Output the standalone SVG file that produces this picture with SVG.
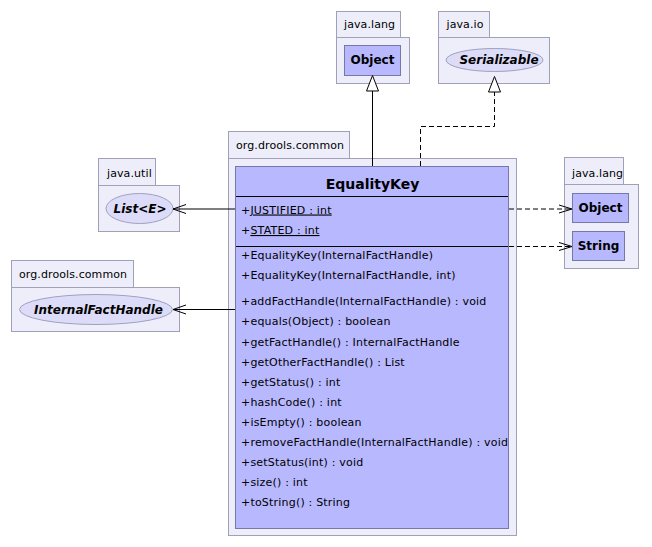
<svg xmlns="http://www.w3.org/2000/svg" width="652" height="547" viewBox="0 0 652 547">
<style>
.pkg{fill:#eeeefa;stroke:#a0a0b8;stroke-width:1}
.cls{fill:#b8b8ff;stroke:#7878a8;stroke-width:1}
.ell{fill:#dcdcf8;stroke:#a0a0c0;stroke-width:1}
.plab{font-family:"DejaVu Sans",sans-serif;font-size:11px;letter-spacing:0.1px;fill:#000}
.cname{font-family:"DejaVu Sans",sans-serif;font-size:12px;font-weight:bold;fill:#000}
.iname{font-family:"DejaVu Sans",sans-serif;font-size:12px;font-weight:bold;font-style:italic;fill:#000}
.title{font-family:"DejaVu Sans",sans-serif;font-size:14px;font-weight:bold;fill:#000}
.mem{font-family:"DejaVu Sans",sans-serif;font-size:11px;letter-spacing:0.2px;fill:#000}
.sep{stroke:#000;stroke-width:1}
.ln{fill:none;stroke:#000;stroke-width:1}
.dash{fill:none;stroke:#000;stroke-width:1;stroke-dasharray:5,3}
.tri{fill:#fff;stroke:#000;stroke-width:1}
</style>
<rect width="652" height="547" fill="#fff"/>

<g id="pkg-java-lang-top">
<rect class="pkg" x="336.5" y="11.5" width="64" height="26"/>
<rect class="pkg" x="336.5" y="37.5" width="73" height="46"/>
<text class="plab" x="344" y="28">java.lang</text>
<g id="node-object-top">
<rect class="cls" x="344.5" y="45.5" width="56" height="30"/>
<text class="cname" x="372.5" y="64" text-anchor="middle">Object</text>
</g>
</g>

<g id="pkg-java-io">
<rect class="pkg" x="438.5" y="11.5" width="51" height="26"/>
<rect class="pkg" x="438.5" y="37.5" width="111" height="46"/>
<text class="plab" x="446.5" y="28">java.io</text>
<g id="node-serializable">
<ellipse class="ell" cx="494.5" cy="60" rx="48.5" ry="11.5"/>
<text class="iname" x="499" y="64" text-anchor="middle">Serializable</text>
</g>
</g>

<g id="pkg-java-util">
<rect class="pkg" x="98.5" y="158.5" width="57" height="27"/>
<rect class="pkg" x="98.5" y="185.5" width="81" height="46"/>
<text class="plab" x="107" y="176.5">java.util</text>
<g id="node-list">
<ellipse class="ell" cx="139.5" cy="208.5" rx="33.5" ry="15"/>
<text class="iname" x="140" y="212.5" text-anchor="middle">List&lt;E&gt;</text>
</g>
</g>

<g id="pkg-org-drools-common-left">
<rect class="pkg" x="11.5" y="260.5" width="122" height="27"/>
<rect class="pkg" x="11.5" y="287.5" width="168" height="44"/>
<text class="plab" x="19" y="277.5">org.drools.common</text>
<g id="node-internalfacthandle">
<ellipse class="ell" cx="96" cy="309.5" rx="76.5" ry="15"/>
<text class="iname" x="98.5" y="313.5" text-anchor="middle">InternalFactHandle</text>
</g>
</g>

<g id="pkg-java-lang-right">
<rect class="pkg" x="564.5" y="157.5" width="59" height="27"/>
<rect class="pkg" x="564.5" y="184.5" width="74" height="84"/>
<text class="plab" x="572" y="176.5">java.lang</text>
<g id="node-object-right">
<rect class="cls" x="572.5" y="193.5" width="56" height="29"/>
<text class="cname" x="600.5" y="211.5" text-anchor="middle">Object</text>
</g>
<g id="node-string">
<rect class="cls" x="572.5" y="231.5" width="52" height="29"/>
<text class="cname" x="598.5" y="250" text-anchor="middle">String</text>
</g>
</g>

<g id="pkg-org-drools-common-main">
<rect class="pkg" x="228.5" y="131.5" width="121" height="27"/>
<rect class="pkg" x="228.5" y="158.5" width="288" height="377"/>
<text class="plab" x="236" y="148.5">org.drools.common</text>
<g id="node-equalitykey">
<rect class="cls" x="235.5" y="166.5" width="273" height="362"/>
<text class="title" x="372.5" y="188.5" text-anchor="middle">EqualityKey</text>
<line class="sep" x1="236" y1="196.5" x2="508" y2="196.5"/>
<text class="mem" x="241" y="213.5">+<tspan text-decoration="underline">JUSTIFIED : int</tspan></text>
<text class="mem" x="241" y="234">+<tspan text-decoration="underline">STATED : int</tspan></text>
<line class="sep" x1="236" y1="246.5" x2="508" y2="246.5"/>
<text class="mem" x="241" y="259">+EqualityKey(InternalFactHandle)</text>
<text class="mem" x="241" y="279">+EqualityKey(InternalFactHandle, int)</text>
<text class="mem" x="241" y="305">+addFactHandle(InternalFactHandle) : void</text>
<text class="mem" x="241" y="325">+equals(Object) : boolean</text>
<text class="mem" x="241" y="346">+getFactHandle() : InternalFactHandle</text>
<text class="mem" x="241" y="366">+getOtherFactHandle() : List</text>
<text class="mem" x="241" y="386">+getStatus() : int</text>
<text class="mem" x="241" y="406">+hashCode() : int</text>
<text class="mem" x="241" y="426">+isEmpty() : boolean</text>
<text class="mem" x="241" y="446">+removeFactHandle(InternalFactHandle) : void</text>
<text class="mem" x="241" y="466">+setStatus(int) : void</text>
<text class="mem" x="241" y="486">+size() : int</text>
<text class="mem" x="241" y="506">+toString() : String</text>
</g>
</g>

<g id="connectors">
<line class="ln" x1="372.5" y1="91" x2="372.5" y2="166"/>
<polygon class="tri" points="372.5,75.5 366.5,91 378.5,91"/>
<polyline class="dash" points="420.5,166 420.5,126.5 494.5,126.5 494.5,92"/>
<polygon class="tri" points="494.5,76.5 488.5,92 500.5,92"/>
<line class="ln" x1="235" y1="209" x2="173" y2="209"/>
<polyline class="ln" points="186,204.5 173,209 186,213.5"/>
<line class="ln" x1="235" y1="309.5" x2="173" y2="309.5"/>
<polyline class="ln" points="186,305 173,309.5 186,314"/>
<line class="dash" x1="509" y1="209" x2="572" y2="209"/>
<polyline class="ln" points="559,205 572,209 559,213"/>
<line class="dash" x1="509" y1="246.5" x2="572" y2="246.5"/>
<polyline class="ln" points="559,242.5 572,246.5 559,250.5"/>
</g>
</svg>
